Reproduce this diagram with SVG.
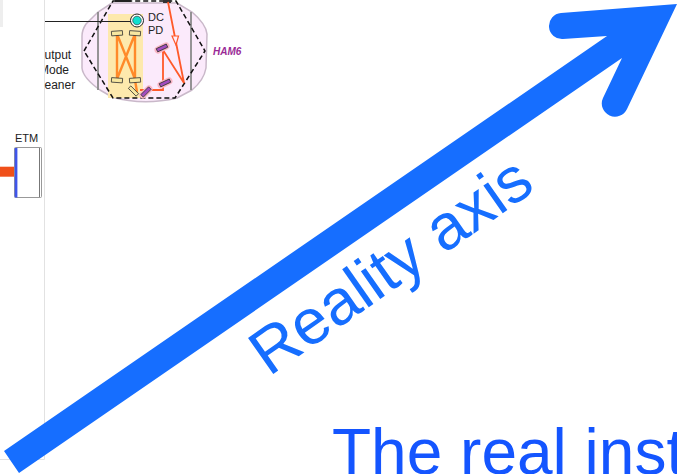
<svg xmlns="http://www.w3.org/2000/svg" width="677" height="474" viewBox="0 0 677 474">
<defs>
<style>
text{font-family:"Liberation Sans",Arial,sans-serif}
.lbl{font-size:11px;fill:#222}
.omcl{font-size:12px;fill:#222}
.beam{fill:none;stroke:#ff5a2a;stroke-width:1.800}
.omc{fill:none;stroke:#ff8a2a;stroke-width:2.400}
.m{fill:#f7e7a0;stroke:#333;stroke-width:.8}
.sm{fill:#a24cc0;stroke:#333;stroke-width:.8}
.halo{fill:none;stroke:#f8b4c4;stroke-width:7;stroke-linecap:round}
</style>
<clipPath id="panel"><rect x="45" y="0" width="632" height="474"/></clipPath>
</defs>
<rect width="677" height="474" fill="#fff"/>
<rect x="0" y="0" width="3" height="27" fill="#eeeeee"/>
<path d="M44.500 0 V459.500 H0" fill="none" stroke="#e2e2e2"/>
<g id="HAM6">
<path d="M112 3 L98 12 L86 24 Q82 30 82 36 L82 68 Q83 78 100 90 L112 97 Q143 106 177 98 L192 90 Q204 80 206 68 L207 34 Q206 24 192 12 L177 3 Z" fill="#fbeafb" stroke="#c9b8c9" stroke-width="1.500"/>
<line x1="98" y1="12" x2="98" y2="90" stroke="#8a8a8a" stroke-width="1.800"/>
<line x1="191" y1="12" x2="191" y2="90" stroke="#8a8a8a" stroke-width="1.800"/>
<rect x="108" y="14" width="35" height="84" fill="#fde9ad"/>
<path d="M84 51 L113 1 L176 1 L205 51 L175 98 L113 98 Z" fill="none" stroke="#111" stroke-width="1.500" stroke-dasharray="5 3"/>
<rect x="115" y="0" width="16" height="2" fill="#222"/>
<rect x="163" y="0" width="8" height="3" fill="#333"/>
<text x="213" y="55" font-size="10" font-weight="bold" font-style="italic" fill="#9a2a96">HAM6</text>
</g>
<g id="connectors">
<line x1="45" y1="21.500" x2="132" y2="21.500" stroke="#222" stroke-width="1"/>
<path class="omc" d="M117 34 L117 79 L135 34 L135 79 L117 34"/>
<path class="omc" d="M135 80 L137 92"/>
<path class="beam" d="M168 2 L184 83 L163 50 L163 90 L140 90"/>
<path d="M172 36 L178.500 36 L176 45 Z" fill="#fdeefd" stroke="#ff5a2a" stroke-width="1.200"/>
<path d="M0 171.700 H14" stroke="#f0501a" stroke-width="10" fill="none"/>
</g>
<g id="OMC-mirrors">
<rect x="111.500" y="31" width="11" height="4.500" class="m" transform="rotate(-4 117 33)"/>
<rect x="129.500" y="31" width="11" height="4.500" class="m" transform="rotate(4 135 33)"/>
<rect x="111.500" y="78" width="11" height="4.500" class="m" transform="rotate(4 117 80)"/>
<rect x="129.500" y="78" width="11" height="4.500" class="m" transform="rotate(-4 135 80)"/>
<rect x="128" y="89.300" width="11" height="3.500" class="m" transform="rotate(45 133.500 91)"/>
</g>
<g id="steering-mirrors">
<line x1="158" y1="50" x2="166" y2="46" class="halo"/>
<rect x="156.500" y="46.200" width="11" height="3.500" class="sm" transform="rotate(-25 162 48)"/>
<line x1="161" y1="85" x2="169" y2="81" class="halo"/>
<rect x="159.500" y="81.200" width="11" height="3.500" class="sm" transform="rotate(-25 165 83)"/>
<line x1="143" y1="95" x2="149" y2="89" class="halo"/>
<rect x="140.500" y="90.200" width="11" height="3.500" class="sm" transform="rotate(-45 146 92)"/>
</g>
<g id="DC-PD">
<circle cx="137" cy="20.500" r="6.500" fill="#fff" stroke="#222" stroke-width="1"/>
<circle cx="137" cy="20.500" r="4.300" fill="#12e0d0" stroke="#222" stroke-width=".6"/>
<text x="148" y="21" class="lbl">DC</text>
<text x="148" y="34" class="lbl">PD</text>
</g>
<g id="Output-Mode-Cleaner">
<text x="44.500" y="59" class="omcl">utput</text>
<text x="39" y="74" class="omcl" clip-path="url(#panel)">Mode</text>
<text x="44.500" y="89" class="omcl">eaner</text>
</g>
<g id="ETM">
<text x="15" y="142" class="lbl">ETM</text>
<rect x="14.500" y="147.500" width="27" height="50" rx="1" fill="#fff" stroke="#999" stroke-width="1"/>
<rect x="14.700" y="148" width="2.700" height="49.500" fill="#3f55ea"/>
<line x1="39.500" y1="148" x2="39.500" y2="197" stroke="#777"/>
</g>
<g id="reality-axis">
<path d="M4 451 L607 36 L563 39 A13 13 0 0 1 561 13 L677 4 L627 109 A13 13 0 0 1 603 98 L622 58 L19 473 Z" fill="#166eff"/>
<text fill="#166eff" font-size="64" transform="translate(269 377) rotate(-35)">Reality axis</text>
</g>
<text fill="#1455ff" x="332" y="474" font-size="64" id="caption">The real inst</text>
</svg>
